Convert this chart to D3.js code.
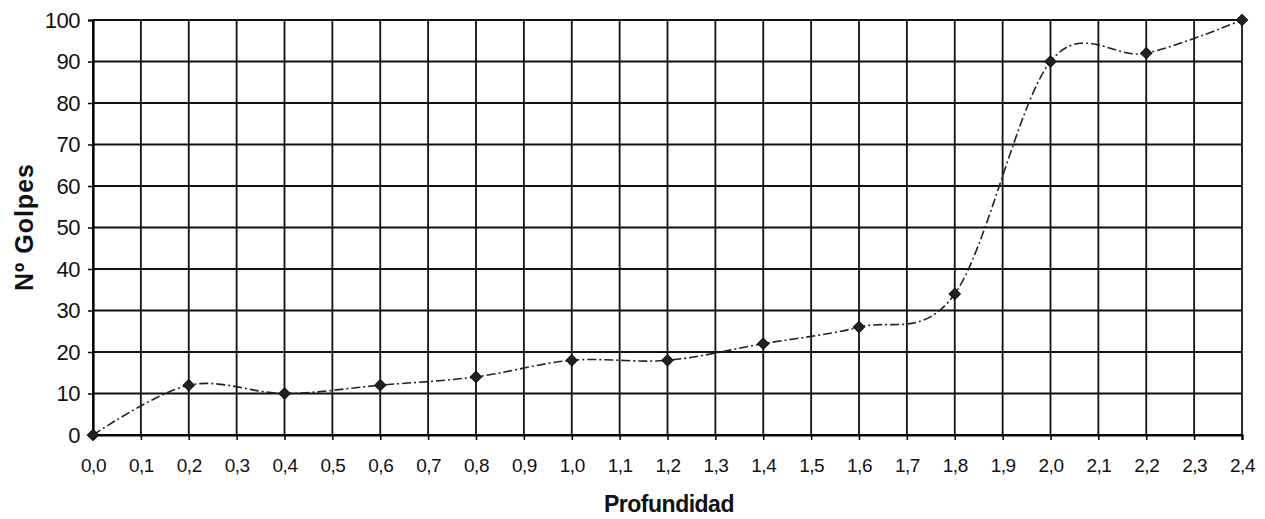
<!DOCTYPE html>
<html>
<head>
<meta charset="utf-8">
<script src="https://cdn.jsdelivr.net/npm/d3@7"></script>
<style>
  body { margin: 0; background: #fff; }
  text { font-family: "Liberation Sans", Arial, sans-serif; fill: #111; }
</style>
</head>
<body>
<div id="container"></div>
<script>
// depth (m) vs blow count
const profundidad = [0.0, 0.2, 0.4, 0.6, 0.8, 1.0, 1.2, 1.4, 1.6, 1.8, 2.0, 2.2, 2.4];
const golpes = [0, 12, 10, 12, 14, 18, 18, 22, 26, 34, 90, 92, 100];
const xTicks = [0.0, 0.1, 0.2, 0.3, 0.4, 0.5, 0.6, 0.7, 0.8, 0.9, 1.0, 1.1, 1.2,
    1.3, 1.4, 1.5, 1.6, 1.7, 1.8, 1.9, 2.0, 2.1, 2.2, 2.3, 2.4];
const yTicks = [0, 10, 20, 30, 40, 50, 60, 70, 80, 90, 100];

function main() {
    const svgWidth = 1265;
    const svgHeight = 519;
    const margin = {left: 93, top: 20, right: 1265 - 1242, bottom: 519 - 435};

    const svg = d3.select("#container")
        .append("svg")
        .attr("width", svgWidth)
        .attr("height", svgHeight);

    const xScale = d3.scaleLinear()
        .domain([0, 2.4])
        .range([margin.left, svgWidth - margin.right]);

    const yScale = d3.scaleLinear()
        .domain([0, 100])
        .range([svgHeight - margin.bottom, margin.top]);

    const fmt = d => d3.format(".1f")(d).replace(".", ",");

    // grid
    svg.append("g")
        .selectAll("line.v")
        .data(xTicks)
        .join("line")
        .attr("x1", d => xScale(d)).attr("x2", d => xScale(d))
        .attr("y1", yScale(100)).attr("y2", yScale(0))
        .attr("stroke", "#111").attr("stroke-width", 1.8);

    svg.append("g")
        .selectAll("line.h")
        .data(yTicks)
        .join("line")
        .attr("x1", xScale(0)).attr("x2", xScale(2.4))
        .attr("y1", d => yScale(d)).attr("y2", d => yScale(d))
        .attr("stroke", "#111").attr("stroke-width", 1.8);

    // axes
    const xAxis = svg.append("g")
        .attr("transform", `translate(0,${yScale(0)})`)
        .call(d3.axisBottom(xScale).tickValues(xTicks).tickFormat(fmt).tickSize(5).tickPadding(19));
    xAxis.select(".domain").attr("stroke-width", 2.2);
    xAxis.selectAll(".tick line").attr("stroke-width", 1.5);
    xAxis.selectAll("text")
        .style("font-size", "19px")
        .style("letter-spacing", "-0.5px")
        .attr("fill", "#111");

    const yAxis = svg.append("g")
        .attr("transform", `translate(${xScale(0)},0)`)
        .call(d3.axisLeft(yScale).tickValues(yTicks).tickSize(5).tickPadding(8));
    yAxis.select(".domain").attr("stroke-width", 2.2);
    yAxis.selectAll(".tick line").attr("stroke-width", 1.5);
    yAxis.selectAll("text")
        .style("font-size", "22px")
        .style("letter-spacing", "-0.5px")
        .attr("fill", "#111");

    // titles
    svg.append("text")
        .attr("x", 669)
        .attr("y", 512)
        .attr("text-anchor", "middle")
        .style("font-size", "23px")
        .style("font-weight", "bold")
        .style("letter-spacing", "-0.5px")
        .text("Profundidad");

    svg.append("text")
        .attr("transform", "translate(33,227) rotate(-90)")
        .attr("text-anchor", "middle")
        .style("font-size", "25px")
        .style("font-weight", "bold")
        .style("letter-spacing", "1px")
        .text("Nº Golpes");

    const points = profundidad.map((p, i) => [p, golpes[i]]);

    svg.append("path")
        .datum(points)
        .attr("fill", "none")
        .attr("stroke", "#222")
        .attr("stroke-width", 1.6)
        .attr("stroke-dasharray", "9,3,2,3")
        .attr("d", d3.line()
            .curve(d3.curveCatmullRom.alpha(0))
            .x(d => xScale(d[0]))
            .y(d => yScale(d[1])));

    svg.append("g")
        .selectAll("path")
        .data(points)
        .join("path")
        .attr("transform", d => `translate(${xScale(d[0])},${yScale(d[1])}) rotate(45)`)
        .attr("d", d3.symbol(d3.symbolSquare, 64))
        .attr("fill", "#222")
        .attr("stroke", "#111")
        .attr("stroke-width", 1);
}

main();
</script>
</body>
</html>
